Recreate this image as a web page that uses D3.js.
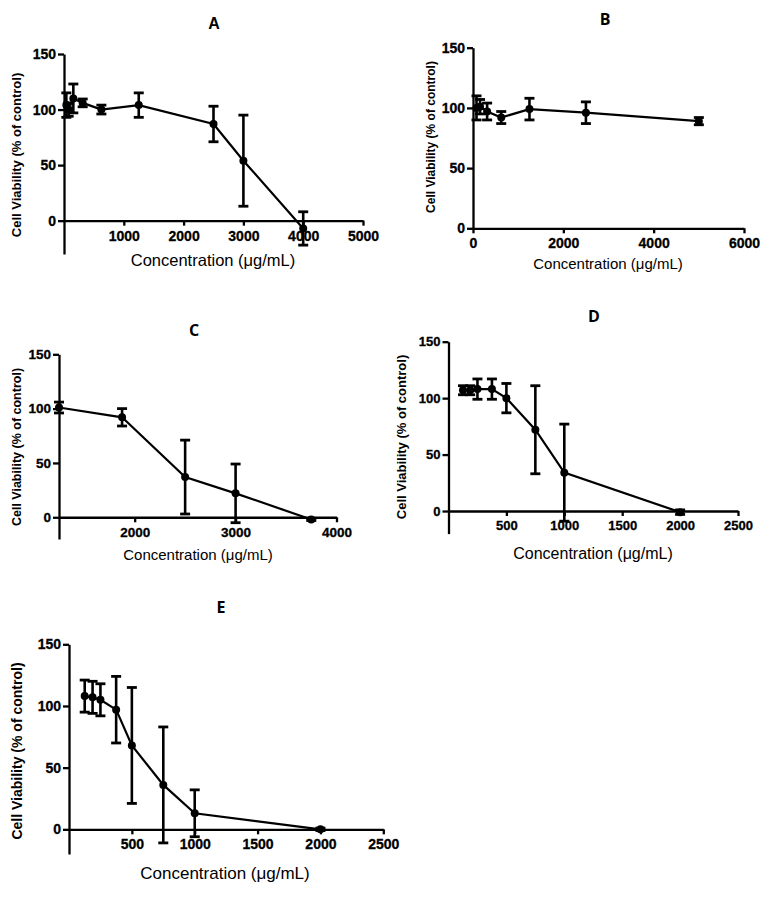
<!DOCTYPE html>
<html><head><meta charset="utf-8">
<script src="https://cdn.jsdelivr.net/npm/d3@7"></script>
<style>body{margin:0;background:#fff}svg{display:block}</style>
</head><body>
<svg id="c" width="771" height="905"></svg>
<script>
// ---- data ----
const concA = [39, 78, 156, 312.5, 625, 1250, 2500, 3000, 4000];
const viabA = [104, 100, 110, 106, 100, 104, 87, 54, -7];
const errA  = [11, 6, 13, 3.5, 4, 11, 16, 41, 15];

const concB = [78, 156, 312.5, 625, 1250, 2500, 5000];
const viabB = [100, 101, 97, 92, 99, 96, 89];
const errB  = [10, 6, 7, 5, 9, 9, 3];

const concC = [1250, 1875, 2500, 3000, 3750];
const viabC = [101, 92, 37, 22, -2];
const errC  = [5, 8, 34, 27, 1];

const concD = [125, 187.5, 250, 375, 500, 750, 1000, 2000];
const viabD = [107, 107, 108, 108, 100, 72, 34, -1];
const errD  = [4, 4, 9, 9, 13, 39, 43, 2];

const concE = [125, 187.5, 250, 375, 500, 750, 1000, 2000];
const viabE = [108, 107, 105, 97, 68, 36, 13, 0];
const errE  = [13, 13, 13, 27, 47, 47, 19, 1];

const xTicksA = [1000, 2000, 3000, 4000, 5000];
const xTicksB = [0, 2000, 4000, 6000];
const xTicksC = [2000, 3000, 4000];
const xTicksD = [500, 1000, 1500, 2000, 2500];
const xTicksE = [500, 1000, 1500, 2000, 2500];
const yTicks = [0, 50, 100, 150];

const titles = ["A", "B", "C", "D", "E"];
const xLabel = "Concentration (\u03bcg/mL)";
const yLabel = "Cell Viability (% of control)";

// ---- layout ----
const panels = [
  {t:titles[0], conc:concA, v:viabA, e:errA, xt:xTicksA, xd:[0,5000], xr:[64,363], yd:[-30,150], yr:[254,54],
   title:[214,25,"Liberation Sans"], xl:[213,262,16.5], yl:[18,155,13], fs:14},
  {t:titles[1], conc:concB, v:viabB, e:errB, xt:xTicksB, xd:[0,6000], xr:[473,744], yd:[0,150], yr:[228.3,47.7],
   title:[605,21,"Open Sans"], xl:[608,265,15], yl:[432,137,12], fs:14},
  {t:titles[2], conc:concC, v:viabC, e:errC, xt:xTicksC, xd:[1250,4000], xr:[59,336.5], yd:[-20,150], yr:[539,354.3],
   title:[194,332,"Open Sans"], xl:[198,556,15], yl:[18,447,12.5], fs:13.5},
  {t:titles[3], conc:concD, v:viabD, e:errD, xt:xTicksD, xd:[0,2500], xr:[448.5,738], yd:[-20,150], yr:[533.6,341.7],
   title:[594,318,"Open Sans"], xl:[593,555,16], yl:[403,437,13], fs:13},
  {t:titles[4], conc:concE, v:viabE, e:errE, xt:xTicksE, xd:[0,2500], xr:[69,383.3], yd:[-20,150], yr:[854,644.3],
   title:[221,609,"Open Sans"], xl:[225,875,17], yl:[18,751,14], fs:14}
];

const svg = d3.select("#c");
const font = "'Liberation Sans', Arial, sans-serif";
const fmt = d3.format("d");

panels.forEach(p => {
  const g = svg.append("g");
  const x = d3.scaleLinear().domain(p.xd).range(p.xr);
  const y = d3.scaleLinear().domain(p.yd).range(p.yr);

  // y axis
  const ya = g.append("g").attr("transform", `translate(${p.xr[0]},0)`)
    .call(d3.axisLeft(y).tickValues(yTicks).tickFormat(fmt).tickSize(6).tickPadding(2).tickSizeOuter(0));
  // x axis at y=0
  const xa = g.append("g").attr("transform", `translate(0,${y(0)})`)
    .call(d3.axisBottom(x).tickValues(p.xt).tickFormat(fmt).tickSize(5).tickPadding(5).tickSizeOuter(0));
  [ya, xa].forEach(a => {
    a.selectAll("path.domain").attr("stroke", "#000").attr("stroke-width", 2.3);
    a.selectAll(".tick line").attr("stroke", "#000").attr("stroke-width", 2.3);
    a.selectAll(".tick text").attr("fill", "#000").attr("font-family", font)
      .attr("font-weight", "bold").attr("font-size", p.fs)
      .attr("stroke", "#000").attr("stroke-width", 0.3);
  });

  const pts = p.conc.map((c, i) => ({c, v: p.v[i], e: p.e[i]}));

  // line
  g.append("path").datum(pts)
    .attr("d", d3.line().x(d => x(d.c)).y(d => y(d.v)))
    .attr("fill", "none").attr("stroke", "#000").attr("stroke-width", 2.2);

  // error bars
  const eb = g.append("g").attr("stroke", "#000").attr("stroke-width", 2.6);
  pts.forEach(d => {
    eb.append("line").attr("x1", x(d.c)).attr("x2", x(d.c)).attr("y1", y(d.v - d.e)).attr("y2", y(d.v + d.e));
    [d.v - d.e, d.v + d.e].forEach(yy => {
      eb.append("line").attr("x1", x(d.c) - 5).attr("x2", x(d.c) + 5).attr("y1", y(yy)).attr("y2", y(yy)).attr("stroke-width", 2.8);
    });
  });

  // markers
  g.append("g").selectAll("circle").data(pts).join("circle")
    .attr("cx", d => x(d.c)).attr("cy", d => y(d.v)).attr("r", 4).attr("fill", "#000");

  // title
  g.append("text").attr("x", p.title[0]).attr("y", p.title[1]).attr("text-anchor", "middle")
    .attr("dominant-baseline", "middle").attr("font-family", p.title[2] === "Open Sans" ? "'Open Sans', sans-serif" : font)
    .attr("font-weight", "bold").attr("font-size", 16).text(p.t);

  // x label
  g.append("text").attr("x", p.xl[0]).attr("y", p.xl[1]).attr("text-anchor", "middle")
    .attr("dominant-baseline", "middle").attr("font-family", font).attr("font-size", p.xl[2]).text(xLabel);

  // y label
  g.append("text").attr("transform", `translate(${p.yl[0]},${p.yl[1]}) rotate(-90)`).attr("text-anchor", "middle")
    .attr("dominant-baseline", "middle").attr("font-family", font).attr("font-weight", "bold")
    .attr("font-size", p.yl[2]).text(yLabel);
});
</script>
</body></html>
